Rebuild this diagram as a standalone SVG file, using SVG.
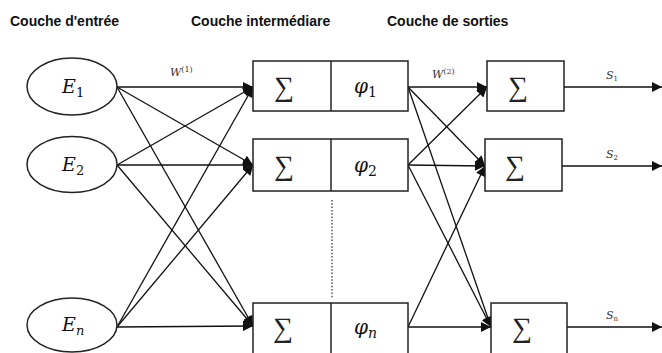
<svg xmlns="http://www.w3.org/2000/svg" width="662" height="353" viewBox="0 0 662 353">
<style>
.title{font-family:"Liberation Sans",Arial,sans-serif;font-size:14px;font-weight:bold;fill:#111}
.shape{fill:#fff;stroke:#222;stroke-width:1.5}
.edge{stroke:#111;stroke-width:1.3;fill:none}
.math{font-family:"DejaVu Serif","Liberation Serif",serif;font-style:italic;fill:#111}
.sub{font-style:normal}
.sig{font-family:"Liberation Serif","DejaVu Serif",serif;font-size:28px;fill:#222;text-anchor:middle}
.lbl{font-family:"DejaVu Serif","Liberation Serif",serif;font-style:italic;font-size:11px;fill:#333}
</style>
<defs>
<marker id="ah" viewBox="0 0 10 10" refX="10" refY="5" markerWidth="11" markerHeight="10" markerUnits="userSpaceOnUse" orient="auto">
<path d="M0,0 L10,5 L0,10 z" fill="#111"/>
</marker>
</defs>
<rect width="662" height="353" fill="#fff"/>
<text class="title" x="10" y="26">Couche d'entrée</text>
<text class="title" x="191" y="26">Couche intermédiare</text>
<text class="title" x="387" y="26">Couche de sorties</text>

<g id="connectors">
<g class="edge" marker-end="url(#ah)">
<line x1="117" y1="87" x2="253" y2="87"/>
<line x1="117" y1="87" x2="253" y2="165"/>
<line x1="117" y1="87" x2="253" y2="326"/>
<line x1="117" y1="165" x2="253" y2="87"/>
<line x1="117" y1="165" x2="253" y2="165"/>
<line x1="117" y1="165" x2="253" y2="326"/>
<line x1="117" y1="327" x2="253" y2="87"/>
<line x1="117" y1="327" x2="253" y2="165"/>
<line x1="117" y1="327" x2="253" y2="326"/>
<line x1="408" y1="87" x2="487" y2="87"/>
<line x1="408" y1="87" x2="485" y2="166"/>
<line x1="408" y1="87" x2="491" y2="327"/>
<line x1="408" y1="165" x2="487" y2="87"/>
<line x1="408" y1="165" x2="485" y2="166"/>
<line x1="408" y1="165" x2="491" y2="327"/>
<line x1="408" y1="327" x2="485" y2="166"/>
<line x1="408" y1="327" x2="491" y2="327"/>
<line x1="564" y1="87" x2="662" y2="87"/>
<line x1="562" y1="166" x2="662" y2="166"/>
<line x1="567" y1="327" x2="662" y2="327"/>
</g>
<line x1="332" y1="200" x2="332" y2="299" stroke="#555" stroke-width="1.5" stroke-dasharray="1.5,1.8"/>
<text class="lbl" x="170" y="76">W<tspan font-size="8" dy="-4" font-style="normal">(1)</tspan></text>
<text class="lbl" x="432" y="78">W<tspan font-size="8" dy="-4" font-style="normal">(2)</tspan></text>
<text class="lbl" x="606" y="79">S<tspan font-size="7" dy="2" font-style="normal">1</tspan></text>
<text class="lbl" x="606" y="158">S<tspan font-size="7" dy="2" font-style="normal">2</tspan></text>
<text class="lbl" x="606" y="319">S<tspan font-size="7" dy="2" font-style="normal">n</tspan></text>
</g>

<g id="E1">
<ellipse class="shape" cx="72" cy="86.5" rx="45" ry="28.5"/>
<text class="math" font-size="19" x="62" y="93">E<tspan class="sub" font-size="13" dy="4">1</tspan></text>
</g>
<g id="E2">
<ellipse class="shape" cx="72" cy="164.5" rx="45" ry="28"/>
<text class="math" font-size="19" x="62" y="171">E<tspan class="sub" font-size="13" dy="4">2</tspan></text>
</g>
<g id="En">
<ellipse class="shape" cx="72" cy="325" rx="45" ry="27"/>
<text class="math" font-size="19" x="62" y="331">E<tspan font-size="13" dy="4">n</tspan></text>
</g>

<g id="H1">
<rect class="shape" x="253" y="61" width="155" height="50"/>
<line class="shape" x1="331" y1="61" x2="331" y2="111"/>
<text class="sig" x="284" y="96">∑</text>
<text class="math" font-size="20" x="354" y="93">φ<tspan class="sub" font-size="14" dy="4">1</tspan></text>
</g>
<g id="H2">
<rect class="shape" x="253" y="139" width="155" height="52"/>
<line class="shape" x1="331" y1="139" x2="331" y2="191"/>
<text class="sig" x="284" y="175">∑</text>
<text class="math" font-size="20" x="354" y="172">φ<tspan class="sub" font-size="14" dy="4">2</tspan></text>
</g>
<g id="Hn">
<rect class="shape" x="253" y="303" width="155" height="52"/>
<line class="shape" x1="331" y1="303" x2="331" y2="355"/>
<text class="sig" x="283" y="337">∑</text>
<text class="math" font-size="20" x="354" y="334">φ<tspan font-size="14" dy="4">n</tspan></text>
</g>

<g id="O1">
<rect class="shape" x="487" y="61" width="77" height="50"/>
<text class="sig" x="518" y="96">∑</text>
</g>
<g id="O2">
<rect class="shape" x="485" y="139" width="77" height="52"/>
<text class="sig" x="515" y="175">∑</text>
</g>
<g id="On">
<rect class="shape" x="491" y="303" width="76" height="52"/>
<text class="sig" x="522" y="337">∑</text>
</g>
</svg>
